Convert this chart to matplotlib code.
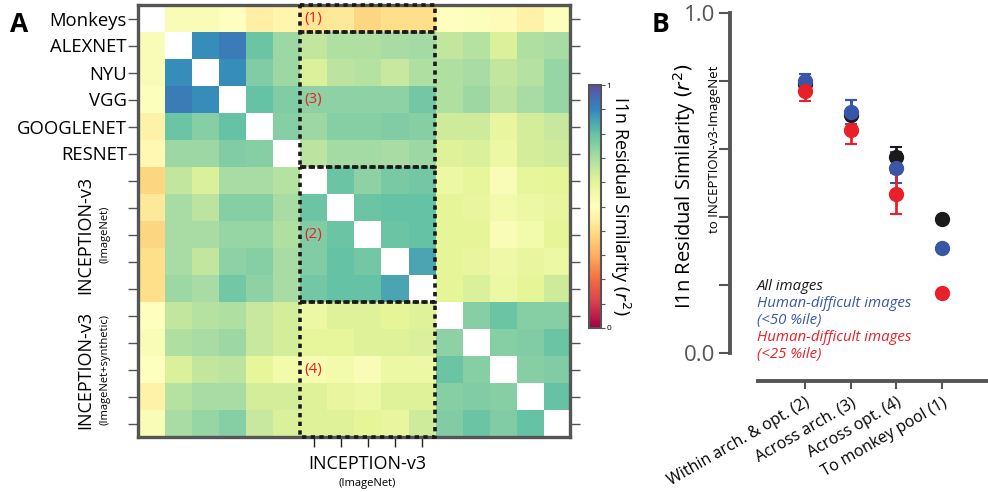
import numpy as np
import matplotlib
matplotlib.use("Agg")
import matplotlib.pyplot as plt
from matplotlib.patches import Rectangle

plt.rcParams['font.family'] = ['Open Sans', 'DejaVu Sans']

# ---- panel A data ----
row_labels = ["Monkeys", "ALEXNET", "NYU", "VGG", "GOOGLENET", "RESNET"]
nan = np.nan
sim = np.array([
    [nan, .52, .52, .50, .45, .47, .42, .43, .38, .40, .40, .50, .51, .49, .46, .51],
    [.52, nan, .89, .92, .79, .72, .66, .69, .69, .70, .71, .66, .68, .62, .69, .70],
    [.52, .89, nan, .89, .76, .72, .62, .67, .68, .65, .69, .69, .70, .66, .68, .73],
    [.51, .92, .89, nan, .80, .76, .74, .74, .74, .74, .78, .69, .72, .67, .70, .73],
    [.46, .79, .75, .80, nan, .75, .72, .75, .75, .76, .75, .64, .64, .58, .63, .65],
    [.48, .72, .72, .76, .75, nan, .67, .71, .71, .70, .72, .61, .62, .57, .63, .64],
    [.38, .66, .62, .70, .70, .68, nan, .79, .74, .77, .78, .57, .59, .52, .59, .60],
    [.43, .70, .67, .75, .75, .70, .79, nan, .79, .80, .80, .60, .58, .55, .57, .58],
    [.38, .70, .70, .73, .73, .69, .76, .79, nan, .79, .80, .60, .60, .52, .55, .60],
    [.40, .70, .66, .74, .75, .70, .76, .80, .78, nan, .85, .60, .58, .56, .58, .57],
    [.40, .72, .70, .78, .74, .70, .78, .80, .80, .85, nan, .60, .62, .57, .60, .64],
    [.50, .66, .68, .69, .65, .63, .57, .61, .61, .60, .61, nan, .75, .79, .75, .75],
    [.52, .69, .70, .72, .65, .63, .59, .59, .61, .61, .62, .74, nan, .75, .76, .79],
    [.50, .62, .66, .67, .59, .55, .53, .55, .52, .57, .57, .79, .75, nan, .75, .76],
    [.46, .68, .70, .70, .63, .63, .61, .58, .57, .61, .61, .75, .76, .75, nan, .80],
    [.52, .70, .73, .75, .65, .62, .61, .61, .60, .58, .64, .76, .79, .76, .80, nan],
])
# dashed comparison boxes: (label, first row, last row) over the INCEPTION-v3 ImageNet columns 6-10
boxes = [("(1)", 0, 0), ("(3)", 1, 5), ("(2)", 6, 10), ("(4)", 11, 15)]

# ---- panel B data ----
comparisons = ["Within arch. & opt. (2)", "Across arch. (3)", "Across opt. (4)", "To monkey pool (1)"]
all_mean = [0.79, 0.70, 0.576, 0.394]
all_err = [0.02, 0.045, 0.03, 0.0]
p50_mean = [0.80, 0.71, 0.545, 0.308]
p50_err = [0.022, 0.035, 0.045, 0.0]
p25_mean = [0.77, 0.655, 0.468, 0.176]
p25_err = [0.028, 0.04, 0.06, 0.0]

GREY = "#555555"
fig = plt.figure(figsize=(9.88, 4.92), dpi=100)

# ================= A =================
ax = fig.add_axes([138/988, 1-437/492, 432/988, 432/492])
cmap = plt.get_cmap("Spectral").copy(); cmap.set_bad("white")
im = ax.imshow(np.ma.masked_invalid(sim), cmap=cmap, vmin=0, vmax=1, aspect="auto",
               interpolation="nearest")
for s in ax.spines.values():
    s.set_color(GREY); s.set_linewidth(2.4)
ax.set_yticks(range(16))
ax.set_yticklabels(row_labels + [""]*10, fontsize=13.3)
ax.tick_params(axis="y", left=True, right=True, length=7, width=1, color=GREY, pad=1)
ax.set_xticks(range(6, 11)); ax.set_xticklabels([])
ax.tick_params(axis="x", bottom=True, top=False, length=7, width=1, color="#222222")
for lab, r0, r1 in boxes:
    ax.add_patch(Rectangle((5.5, r0-0.5), 5, r1-r0+1, fill=False, ec="#1a1a1a",
                           lw=2.6, ls=(0, (1.2, 1.2)), zorder=5, clip_on=False))
    ax.text(5.65, (r0+r1)/2, lab, color="#e8202a", fontsize=11, va="center", ha="left", zorder=6)

# group brackets on the left
for r0, r1, sub in [(6, 10, "(ImageNet)"), (11, 15, "(ImageNet+synthetic)")]:
    ax.plot([-0.42, -0.42], [r0-0.1, r1+0.2], transform=ax.get_yaxis_transform(),
            color="#1a1a1a", lw=1.5, clip_on=False)
    yc = (r0+r1)/2
    ax.text(-0.123, yc, "INCEPTION-v3", rotation=90, ha="center", va="center", fontsize=13,
            transform=ax.get_yaxis_transform())
    ax.text(-0.077, yc, sub, rotation=90, ha="center", va="center", fontsize=8,
            transform=ax.get_yaxis_transform())
# bottom bracket
ax.plot([5.65, 10.4], [1.03, 1.03], transform=ax.get_xaxis_transform(),
        color="#1a1a1a", lw=1.5, clip_on=False)
ax.text(8, -0.062, "INCEPTION-v3", ha="center", va="center", fontsize=13,
        transform=ax.get_xaxis_transform())
ax.text(8, -0.107, "(ImageNet)", ha="center", va="center", fontsize=8,
        transform=ax.get_xaxis_transform())

# colorbar
cax = fig.add_axes([589/988, 1-328/492, 12/988, 243/492])
cb = fig.colorbar(im, cax=cax)
cb.outline.set_edgecolor(GREY); cb.outline.set_linewidth(1.5)
cb.set_ticks(np.linspace(0, 1, 11))
cb.set_ticklabels(["0"] + [""]*9 + ["1"])
cax.tick_params(length=3, width=0.8, color=GREY, labelsize=6, pad=1)
cax.set_ylabel("I1n Residual Similarity $(r^2)$", rotation=270, fontsize=13, labelpad=15)

fig.text(10/988, 1-25/492, "A", fontsize=19, fontweight="bold", va="center")

# ================= B =================
bx = fig.add_axes([758/988, 1-353/492, 230/988, 340/492])
xs = np.arange(len(comparisons))
for m, e, c in [(all_mean, all_err, "#1a1a1a"), (p50_mean, p50_err, "#3a56a8"),
                (p25_mean, p25_err, "#e8202a")]:
    bx.errorbar(xs, m, yerr=e, fmt="o", color=c, ms=10, elinewidth=2, capsize=4,
                capthick=1.5, zorder=3)
bx.set_xlim(-1.02, 4.0); bx.set_ylim(0, 1)
bx.spines["top"].set_visible(False); bx.spines["right"].set_visible(False)
bx.spines["left"].set_position(("outward", 20))
bx.spines["bottom"].set_position(("outward", 20))
for s in ("left", "bottom"):
    bx.spines[s].set_color(GREY); bx.spines[s].set_linewidth(2.8)
bx.spines["left"].set_bounds(0, 1)
bx.set_yticks(np.linspace(0, 1, 6))
bx.set_yticklabels(["0.0", "", "", "", "", "1.0"], fontsize=16, color=GREY)
bx.tick_params(axis="y", length=8, width=1.5, color=GREY, pad=3)
bx.set_xticks(xs)
bx.set_xticklabels(comparisons, rotation=30, ha="right", rotation_mode="anchor", fontsize=11.5)
bx.tick_params(axis="x", length=6, width=1.5, color=GREY, pad=4)
bx.text(-0.32, 0.49, "I1n Residual Similarity $(r^2)$", rotation=90, ha="center", va="center",
        fontsize=14.5, transform=bx.transAxes)
bx.text(-0.19, 0.60, "to INCEPTION-v3-ImageNet", rotation=90, ha="center", va="center",
        fontsize=9.5, transform=bx.transAxes)
leg = [("All images", "#1a1a1a", 0.195), ("Human-difficult images", "#3a56a8", 0.145),
       ("(<50 %ile)", "#3a56a8", 0.095), ("Human-difficult images", "#e8202a", 0.045),
       ("(<25 %ile)", "#e8202a", -0.005)]
for t, c, y in leg:
    bx.text(-0.005, y, t, color=c, style="italic", fontsize=10.8, ha="left", va="center",
            transform=bx.transAxes)
fig.text(652/988, 1-25/492, "B", fontsize=19, fontweight="bold", va="center")

fig.savefig("out.png", dpi=100)
